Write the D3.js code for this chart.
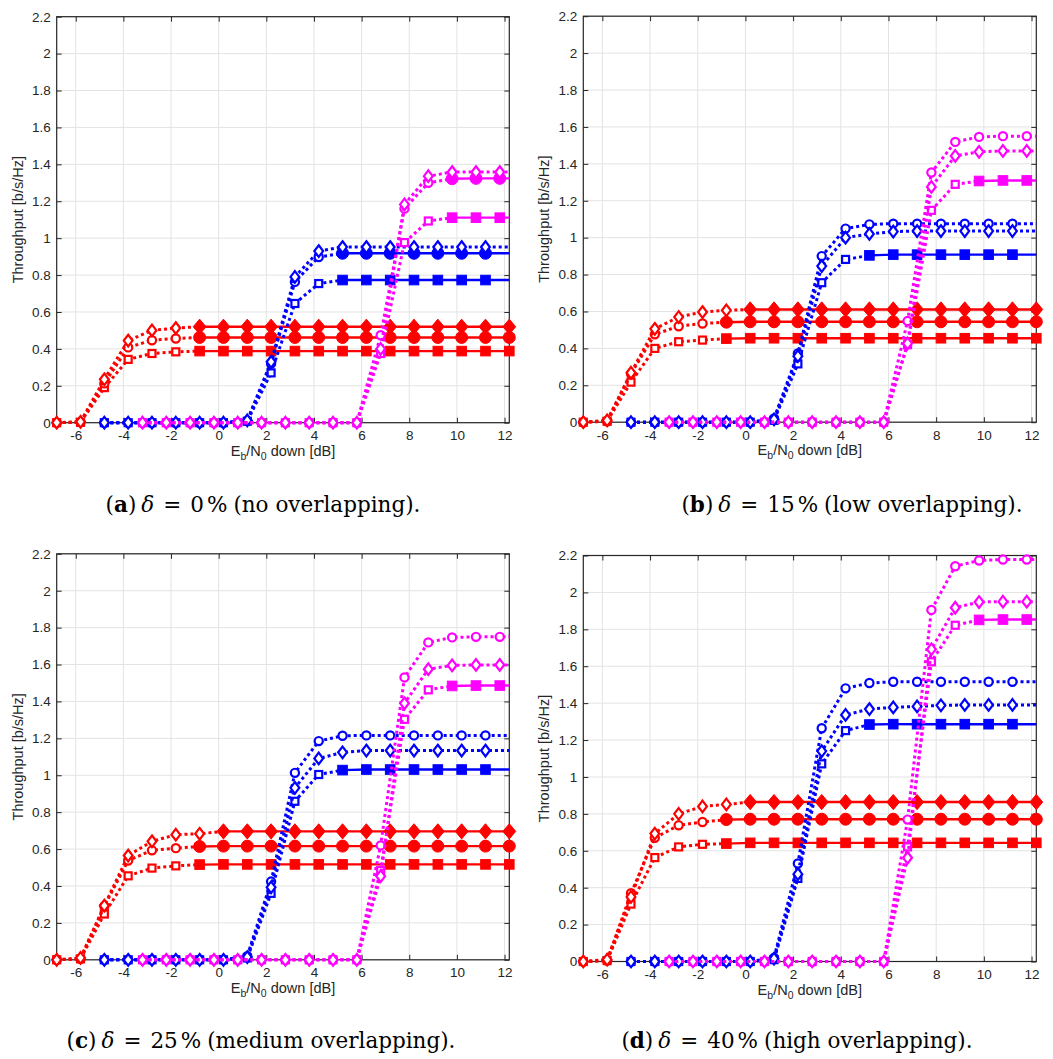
<!DOCTYPE html>
<html>
<head>
<meta charset="utf-8">
<script src="https://cdn.jsdelivr.net/npm/d3@7"></script>
<style>
  body { margin: 0; background: #fff; }
  svg { display: block; }
  .tick text, .axis-label { font-family: "Liberation Sans", Arial, sans-serif; fill: #262626; }
  .caption { font-family: "DejaVu Serif", serif; fill: #000; }
</style>
</head>
<body>
<svg id="fig"></svg>
<script>
// marker x positions (dB) for each transmitter colour
const xRed = [-6.8, -5.8, -4.8, -3.8, -2.8, -1.8, -0.8, 0.2, 1.2, 2.2, 3.2, 4.2, 5.2, 6.2, 7.2, 8.2, 9.2, 10.2, 11.2, 12.2];
const xBlue = [-4.8, -3.8, -2.8, -1.8, -0.8, 0.2, 1.2, 2.2, 3.2, 4.2, 5.2, 6.2, 7.2, 8.2, 9.2, 10.2, 11.2];
const xMagenta = [-3.2, -2.2, -1.2, -0.2, 0.8, 1.8, 2.8, 3.8, 4.8, 5.8, 6.8, 7.8, 8.8, 9.8, 10.8, 11.8];

const xTicks = [-6, -4, -2, 0, 2, 4, 6, 8, 10, 12];
const yTicks = [0, 0.2, 0.4, 0.6, 0.8, 1, 1.2, 1.4, 1.6, 1.8, 2, 2.2];
const xDomain = [-6.8, 12.2];
const yDomain = [0, 2.2];

// (a) delta = 0 %
const redSquareA   = [0, 0.002, 0.19, 0.343, 0.375, 0.384, 0.388, 0.388, 0.388, 0.388, 0.388, 0.388, 0.388, 0.388, 0.388, 0.388, 0.388, 0.388, 0.388, 0.388];
const redCircleA   = [0, 0.003, 0.213, 0.408, 0.447, 0.456, 0.462, 0.462, 0.462, 0.462, 0.462, 0.462, 0.462, 0.462, 0.462, 0.462, 0.462, 0.462, 0.462, 0.462];
const redDiamondA  = [0, 0.005, 0.235, 0.445, 0.5, 0.513, 0.52, 0.52, 0.52, 0.52, 0.52, 0.52, 0.52, 0.52, 0.52, 0.52, 0.52, 0.52, 0.52, 0.52];
const blueSquareA  = [0, 0, 0, 0, 0, 0, 0.008, 0.27, 0.646, 0.754, 0.773, 0.773, 0.773, 0.773, 0.773, 0.773, 0.773];
const blueCircleA  = [0, 0, 0, 0, 0, 0, 0.01, 0.32, 0.763, 0.898, 0.918, 0.918, 0.918, 0.918, 0.918, 0.918, 0.918];
const blueDiamondA = [0, 0, 0, 0, 0, 0, 0.012, 0.33, 0.79, 0.93, 0.952, 0.952, 0.952, 0.952, 0.952, 0.952, 0.952];
const magSquareA   = [0, 0, 0, 0, 0, 0, 0, 0, 0, 0, 0.375, 0.976, 1.093, 1.111, 1.111, 1.111];
const magCircleA   = [0, 0, 0, 0, 0, 0, 0, 0, 0, 0, 0.474, 1.16, 1.3, 1.322, 1.324, 1.324];
const magDiamondA  = [0, 0, 0, 0, 0, 0, 0, 0, 0, 0, 0.4, 1.183, 1.336, 1.358, 1.358, 1.358];

// (b) delta = 15 %
const redSquareB   = [0, 0.005, 0.217, 0.4, 0.436, 0.445, 0.453, 0.455, 0.455, 0.455, 0.455, 0.455, 0.455, 0.455, 0.455, 0.455, 0.455, 0.455, 0.455, 0.455];
const redCircleB   = [0, 0.005, 0.262, 0.476, 0.52, 0.535, 0.542, 0.544, 0.544, 0.544, 0.544, 0.544, 0.544, 0.544, 0.544, 0.544, 0.544, 0.544, 0.544, 0.544];
const redDiamondB  = [0, 0.01, 0.268, 0.506, 0.57, 0.597, 0.606, 0.611, 0.611, 0.611, 0.611, 0.611, 0.611, 0.611, 0.611, 0.611, 0.611, 0.611, 0.611, 0.611];
const blueSquareB  = [0, 0, 0, 0, 0, 0, 0.01, 0.316, 0.756, 0.882, 0.904, 0.908, 0.908, 0.908, 0.908, 0.908, 0.908];
const blueCircleB  = [0, 0, 0, 0, 0, 0, 0.02, 0.372, 0.9, 1.049, 1.072, 1.076, 1.076, 1.076, 1.076, 1.076, 1.076];
const blueDiamondB = [0, 0, 0, 0, 0, 0, 0.015, 0.358, 0.846, 1.0, 1.02, 1.033, 1.036, 1.036, 1.036, 1.036, 1.036];
const magSquareB   = [0, 0, 0, 0, 0, 0, 0, 0, 0, 0, 0.42, 1.148, 1.289, 1.307, 1.31, 1.31];
const magCircleB   = [0, 0, 0, 0, 0, 0, 0, 0, 0, 0, 0.548, 1.353, 1.519, 1.546, 1.55, 1.55];
const magDiamondB  = [0, 0, 0, 0, 0, 0, 0, 0, 0, 0, 0.427, 1.275, 1.443, 1.465, 1.47, 1.47];

// (c) delta = 25 %
const redSquareC   = [0, 0.005, 0.248, 0.455, 0.497, 0.509, 0.516, 0.517, 0.517, 0.517, 0.517, 0.517, 0.517, 0.517, 0.517, 0.517, 0.517, 0.517, 0.517, 0.517];
const redCircleC   = [0, 0.005, 0.29, 0.538, 0.593, 0.605, 0.614, 0.616, 0.616, 0.616, 0.616, 0.616, 0.616, 0.616, 0.616, 0.616, 0.616, 0.616, 0.616, 0.616];
const redDiamondC  = [0, 0.01, 0.294, 0.565, 0.642, 0.678, 0.683, 0.696, 0.696, 0.696, 0.696, 0.696, 0.696, 0.696, 0.696, 0.696, 0.696, 0.696, 0.696, 0.696];
const blueSquareC  = [0, 0, 0, 0, 0, 0, 0.01, 0.36, 0.859, 1.004, 1.028, 1.031, 1.031, 1.031, 1.031, 1.031, 1.031];
const blueCircleC  = [0, 0, 0, 0, 0, 0, 0.02, 0.424, 1.013, 1.185, 1.214, 1.216, 1.216, 1.216, 1.216, 1.216, 1.216];
const blueDiamondC = [0, 0, 0, 0, 0, 0, 0.015, 0.393, 0.932, 1.091, 1.124, 1.134, 1.134, 1.134, 1.134, 1.134, 1.134];
const magSquareC   = [0, 0, 0, 0, 0, 0, 0, 0, 0, 0, 0.484, 1.303, 1.463, 1.484, 1.486, 1.486];
const magCircleC   = [0, 0, 0, 0, 0, 0, 0, 0, 0, 0, 0.62, 1.53, 1.72, 1.747, 1.75, 1.75];
const magDiamondC  = [0, 0, 0, 0, 0, 0, 0, 0, 0, 0, 0.453, 1.39, 1.575, 1.595, 1.598, 1.598];

// (d) delta = 40 %
const redSquareD   = [0, 0.005, 0.311, 0.563, 0.621, 0.635, 0.639, 0.643, 0.643, 0.643, 0.643, 0.643, 0.643, 0.643, 0.643, 0.643, 0.643, 0.643, 0.643, 0.643];
const redCircleD   = [0, 0.005, 0.37, 0.67, 0.738, 0.756, 0.769, 0.771, 0.771, 0.771, 0.771, 0.771, 0.771, 0.771, 0.771, 0.771, 0.771, 0.771, 0.771, 0.771];
const redDiamondD  = [0, 0.01, 0.35, 0.693, 0.8, 0.84, 0.851, 0.864, 0.864, 0.864, 0.864, 0.864, 0.864, 0.864, 0.864, 0.864, 0.864, 0.864, 0.864, 0.864];
const blueSquareD  = [0, 0, 0, 0, 0, 0, 0.01, 0.45, 1.071, 1.251, 1.284, 1.286, 1.286, 1.286, 1.286, 1.286, 1.286];
const blueCircleD  = [0, 0, 0, 0, 0, 0, 0.02, 0.531, 1.264, 1.48, 1.509, 1.516, 1.516, 1.516, 1.516, 1.516, 1.516];
const blueDiamondD = [0, 0, 0, 0, 0, 0, 0.015, 0.473, 1.14, 1.336, 1.368, 1.377, 1.382, 1.388, 1.39, 1.39, 1.39];
const magSquareD   = [0, 0, 0, 0, 0, 0, 0, 0, 0, 0, 0.621, 1.624, 1.822, 1.851, 1.853, 1.853];
const magCircleD   = [0, 0, 0, 0, 0, 0, 0, 0, 0, 0, 0.769, 1.905, 2.142, 2.173, 2.178, 2.178];
const magDiamondD  = [0, 0, 0, 0, 0, 0, 0, 0, 0, 0, 0.562, 1.692, 1.917, 1.948, 1.95, 1.95];

// x from which each curve is saturated (solid line, filled markers); null = never
// order: red sq/ci/di, blue sq/ci/di, magenta sq/ci/di
const solidFromA = [-0.8, -0.8, -0.8, 5.2, 5.2, null, 9.8, 9.8, null];
const solidFromB = [-0.8, -0.8, 0.2, 5.2, null, null, 9.8, null, null];
const solidFromC = [-0.8, -0.8, 0.2, 5.2, null, null, 9.8, null, null];
const solidFromD = [-0.8, -0.8, 0.2, 5.2, null, null, 9.8, null, null];

const captionLetters = ["a", "b", "c", "d"];
const captionDeltas = ["0", "15", "25", "40"];
const captionWords = ["no", "low", "medium", "high"];

const colors = { red: "#ff0000", blue: "#0000ff", magenta: "#ff00ff" };
const shapes = ["square", "circle", "diamond"];

const svg = d3.select("#fig").attr("width", 1053).attr("height", 1059);

// axes boxes and caption anchors (caption x is the text centre)
const frames = [
  { l: 56.7, r: 509.3, t: 16.7, b: 422.7, yl: 23, cx: 263, cy: 512 },
  { l: 583.3, r: 1036.3, t: 16.2, b: 422.2, yl: 549, cx: 852, cy: 512 },
  { l: 56.7, r: 509.3, t: 553.8, b: 959.8, yl: 23, cx: 261, cy: 1048 },
  { l: 583.3, r: 1036.3, t: 555.5, b: 961.5, yl: 549, cx: 797, cy: 1048 }
];

const panelSeries = [
  [redSquareA, redCircleA, redDiamondA, blueSquareA, blueCircleA, blueDiamondA, magSquareA, magCircleA, magDiamondA],
  [redSquareB, redCircleB, redDiamondB, blueSquareB, blueCircleB, blueDiamondB, magSquareB, magCircleB, magDiamondB],
  [redSquareC, redCircleC, redDiamondC, blueSquareC, blueCircleC, blueDiamondC, magSquareC, magCircleC, magDiamondC],
  [redSquareD, redCircleD, redDiamondD, blueSquareD, blueCircleD, blueDiamondD, magSquareD, magCircleD, magDiamondD]
];
const panelSolid = [solidFromA, solidFromB, solidFromC, solidFromD];

function drawMarker(g, shape, px, py, color, filled) {
  const sw = filled ? 1 : 2.2;
  if (shape === "circle") {
    g.append("circle")
     .attr("cx", px).attr("cy", py)
     .attr("r", filled ? 6 : 4.1)
     .attr("fill", filled ? color : "#fff")
     .attr("stroke", color)
     .attr("stroke-width", sw);
  } else if (shape === "square") {
    const s = filled ? 9.6 : 7;
    g.append("rect")
     .attr("x", px - s / 2).attr("y", py - s / 2)
     .attr("width", s).attr("height", s)
     .attr("fill", filled ? color : "#fff")
     .attr("stroke", color)
     .attr("stroke-width", sw);
  } else {
    const hw = filled ? 6.4 : 4.4, hh = filled ? 7.6 : 5.8;
    g.append("path")
     .attr("d", `M${px},${py - hh}L${px + hw},${py}L${px},${py + hh}L${px - hw},${py}Z`)
     .attr("fill", filled ? color : "#fff")
     .attr("stroke", color)
     .attr("stroke-width", sw);
  }
}

function drawPanel(k) {
  const f = frames[k];
  const x = d3.scaleLinear().domain(xDomain).range([f.l, f.r]);
  const y = d3.scaleLinear().domain(yDomain).range([f.b, f.t]);
  const g = svg.append("g");

  // grid
  g.selectAll(".gx").data(xTicks).enter().append("line")
   .attr("x1", d => x(d)).attr("x2", d => x(d))
   .attr("y1", f.t).attr("y2", f.b)
   .attr("stroke", "#e3e3e3").attr("stroke-width", 1);
  g.selectAll(".gy").data(yTicks).enter().append("line")
   .attr("x1", f.l).attr("x2", f.r)
   .attr("y1", d => y(d)).attr("y2", d => y(d))
   .attr("stroke", "#e3e3e3").attr("stroke-width", 1);

  // axes with inward ticks on all four sides
  const fmt = d => String(d);
  const axB = g.append("g").attr("transform", `translate(0,${f.b})`)
    .call(d3.axisBottom(x).tickValues(xTicks).tickFormat(fmt).tickSizeInner(-5).tickSizeOuter(0).tickPadding(8));
  const axL = g.append("g").attr("transform", `translate(${f.l},0)`)
    .call(d3.axisLeft(y).tickValues(yTicks).tickFormat(fmt).tickSizeInner(-5).tickSizeOuter(0).tickPadding(6));
  const axT = g.append("g").attr("transform", `translate(0,${f.t})`)
    .call(d3.axisTop(x).tickValues(xTicks).tickFormat("").tickSizeInner(-5).tickSizeOuter(0));
  const axR = g.append("g").attr("transform", `translate(${f.r},0)`)
    .call(d3.axisRight(y).tickValues(yTicks).tickFormat("").tickSizeInner(-5).tickSizeOuter(0));
  [axB, axL, axT, axR].forEach(a => {
    a.select(".domain").remove();
    a.selectAll(".tick line").attr("stroke", "#262626");
    a.selectAll(".tick text").attr("font-size", 13.5).attr("fill", "#262626")
     .attr("font-family", "Liberation Sans, Arial, sans-serif");
  });

  g.append("rect")
   .attr("x", f.l).attr("y", f.t)
   .attr("width", f.r - f.l).attr("height", f.b - f.t)
   .attr("fill", "none").attr("stroke", "#262626").attr("stroke-width", 1.2);

  // curves
  const line = d3.line().x(d => x(d[0])).y(d => y(d[1]));
  const series = panelSeries[k];
  const solid = panelSolid[k];
  series.forEach((ys, i) => {
    const colorKey = i < 3 ? "red" : i < 6 ? "blue" : "magenta";
    const xs = i < 3 ? xRed : i < 6 ? xBlue : xMagenta;
    const color = colors[colorKey];
    const shape = shapes[i % 3];
    const pts = xs.map((xv, j) => [xv, ys[j]]);
    const ext = pts.slice();
    if (xs[xs.length - 1] < xDomain[1]) ext.push([xDomain[1], ys[ys.length - 1]]);
    const s0 = solid[i];
    const cut = s0 === null ? -1 : xs.findIndex(v => Math.abs(v - s0) < 1e-6);

    const dotted = cut < 0 ? ext : ext.slice(0, cut + 1);
    g.append("path").attr("d", line(dotted))
     .attr("fill", "none").attr("stroke", color)
     .attr("stroke-width", 3).attr("stroke-dasharray", "3,3");
    if (cut >= 0) {
      g.append("path").attr("d", line(ext.slice(cut)))
       .attr("fill", "none").attr("stroke", color).attr("stroke-width", 2.4);
    }
    pts.forEach((p, j) => {
      drawMarker(g, shape, x(p[0]), y(p[1]), color, cut >= 0 && j >= cut);
    });
  });

  // axis labels
  g.append("text")
   .attr("class", "axis-label")
   .attr("transform", `translate(${f.yl},${(f.t + f.b) / 2}) rotate(-90)`)
   .attr("text-anchor", "middle")
   .attr("font-size", 14.5)
   .text("Throughput [b/s/Hz]");

  const xl = g.append("text")
   .attr("class", "axis-label")
   .attr("x", (f.l + f.r) / 2).attr("y", f.b + 33)
   .attr("text-anchor", "middle")
   .attr("font-size", 14.5);
  xl.append("tspan").text("E");
  xl.append("tspan").attr("dy", 4).attr("font-size", 10.5).text("b");
  xl.append("tspan").attr("dy", -4).text("/N");
  xl.append("tspan").attr("dy", 4).attr("font-size", 10.5).text("0");
  xl.append("tspan").attr("dy", -4).text(" down [dB]");

  // caption
  const cap = svg.append("text")
   .attr("class", "caption")
   .attr("x", f.cx).attr("y", f.cy)
   .attr("text-anchor", "middle")
   .attr("font-size", 21.5);
  cap.append("tspan").text("(");
  cap.append("tspan").attr("font-weight", "bold").text(captionLetters[k]);
  cap.append("tspan").text(")");
  cap.append("tspan").attr("dx", 5).attr("font-style", "italic").text("δ");
  cap.append("tspan").attr("dx", 9).text("=");
  cap.append("tspan").attr("dx", 9).text(captionDeltas[k]);
  cap.append("tspan").attr("dx", 3).text("%");
  cap.append("tspan").attr("dx", 6).text(`(${captionWords[k]} overlapping).`);
}

[0, 1, 2, 3].forEach(drawPanel);
</script>
</body>
</html>
